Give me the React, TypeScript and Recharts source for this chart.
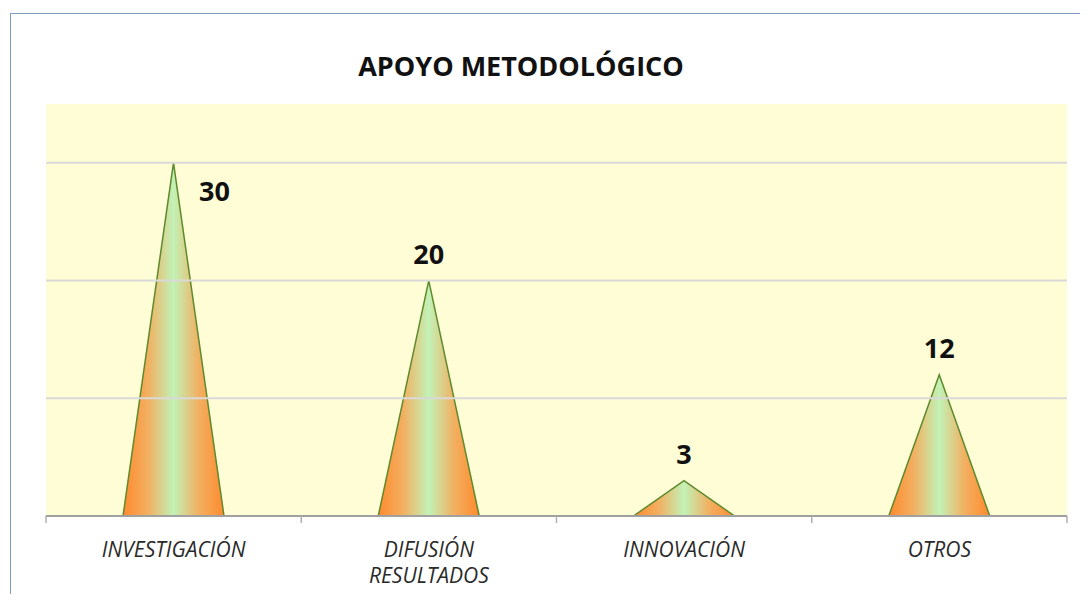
import { BarChart, Bar, XAxis, YAxis, CartesianGrid, LabelList, ReferenceLine } from 'recharts';

const categories = ['INVESTIGACIÓN', 'DIFUSIÓN RESULTADOS', 'INNOVACIÓN', 'OTROS'];
const values = [30, 20, 3, 12];
const gridValues = [10, 20, 30];

const data = categories.map((name, i) => ({ name, value: values[i] }));

const FONT = '"Open Sans", "Liberation Sans", sans-serif';

function Triangle(props: any) {
    const { x, y, width, height } = props;
    if (height <= 0) return null;
    const d = `M${x},${y + height} L${x + width / 2},${y} L${x + width},${y + height} Z`;
    return <path d={d} fill="url(#coneGrad)" stroke="#5E8A2E" strokeWidth={1.5} />;
}

function CategoryTick(props: any) {
    const { x, y, payload, index } = props;
    const lines = String(payload.value).split(' ');
    const half = payload.offset || 0;
    return (
        <g transform={`translate(${x},${y})`}>
            {/* tick marks sit between categories, like the Excel original */}
            {half > 0 && <line x1={-half} x2={-half} y1={-8} y2={-1} stroke="#B0B0B0" strokeWidth={1.5} />}
            {half > 0 && index === categories.length - 1 && (
                <line x1={half} x2={half} y1={-8} y2={-1} stroke="#B0B0B0" strokeWidth={1.5} />
            )}
            {lines.map((line, i) => (
                <text
                    key={i}
                    x={0}
                    y={33 + i * 26}
                    textAnchor="middle"
                    fontFamily={FONT}
                    fontStyle="italic"
                    fontSize={21}
                    fill="#2a2a2a"
                >
                    {line}
                </text>
            ))}
        </g>
    );
}

function ValueLabel(props: any) {
    const { x, y, width, value, index } = props;
    const cx = x + width / 2;
    // first label sits to the right of the apex, the rest above it
    const tx = index === 0 ? cx + 41 : cx;
    const ty = index === 0 ? y + 38 : y - 17;
    return (
        <text x={tx} y={ty} textAnchor="middle" fontFamily={FONT} fontWeight="bold" fontSize={27} fill="#111">
            {value}
        </text>
    );
}

export default function App() {
    return (
        <div style={{ position: 'relative', margin: -8, width: 1088, height: 602, background: '#fff', overflow: 'hidden' }}>
            <div
                style={{
                    position: 'absolute',
                    left: 10,
                    top: 13,
                    right: -2,
                    bottom: -2,
                    borderLeft: '1.5px solid #7E9CC4',
                    borderTop: '1.5px solid #7E9CC4',
                }}
            />
            <div style={{ position: 'absolute', left: 0, top: 0 }}>
                <BarChart width={1088} height={602} data={data} margin={{ top: 104, right: 21, left: 46, bottom: 6 }} barSize={101}>
                    <defs>
                        <linearGradient id="coneGrad" x1="0" y1="0" x2="1" y2="0">
                            <stop offset="0%" stopColor="#FF8A2E" />
                            <stop offset="25%" stopColor="#F2B061" />
                            <stop offset="50%" stopColor="#C2F2B6" />
                            <stop offset="75%" stopColor="#F2B061" />
                            <stop offset="100%" stopColor="#FF8A2E" />
                        </linearGradient>
                    </defs>
                    <CartesianGrid vertical={false} horizontal={false} fill="#FEFDD6" stroke="none" />
                    {gridValues.map((v) => (
                        <ReferenceLine key={v} y={v} stroke="#D9D9D9" strokeWidth={2} />
                    ))}
                    <XAxis
                        dataKey="name"
                        height={80}
                        interval={0}
                        tickLine={false}
                        axisLine={{ stroke: '#A0A0A0', strokeWidth: 2 }}
                        tick={<CategoryTick />}
                    />
                    <YAxis hide domain={[0, 35]} />
                    <Bar dataKey="value" shape={<Triangle />} isAnimationActive={false}>
                        <LabelList dataKey="value" content={<ValueLabel />} />
                    </Bar>
                </BarChart>
            </div>
            <svg style={{ position: 'absolute', left: 0, top: 0 }} width={1088} height={100}>
                <text x={521} y={76} textAnchor="middle" fontFamily={FONT} fontWeight="bold" fontSize={27} fill="#111">
                    APOYO METODOLÓGICO
                </text>
            </svg>
        </div>
    );
}
